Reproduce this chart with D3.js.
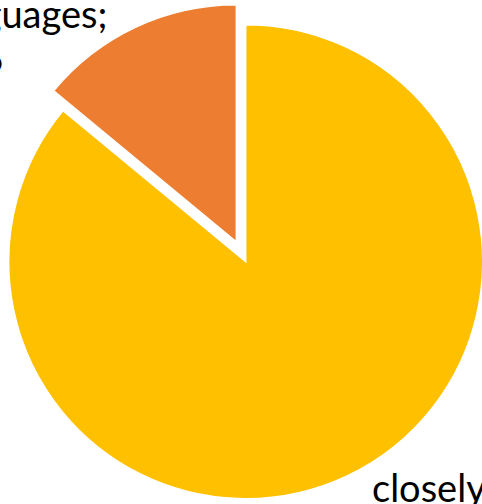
<!DOCTYPE html>
<html>
<head>
<meta charset="utf-8">
<script src="https://cdn.jsdelivr.net/npm/d3@7"></script>
<style>
  html, body { margin: 0; padding: 0; background: #fff; overflow: hidden; }
  svg { display: block; }
</style>
</head>
<body>
<svg id="chart" width="482" height="504"></svg>
<script>
// Share of speakers by language group
const categories = ["closely related languages", "Other languages"];
const shares = [86, 14];
const percentLabels = ["86%", "14%"];
const sliceColors = ["#FFC000", "#ED7D31"];

const width = 482, height = 504;
const cx = 245.7, cy = 261.7, radius = 237;
const explode = [0, 22];

const svg = d3.select("#chart");

const pie = d3.pie().sort(null).value(d => d.value).startAngle(0).endAngle(2 * Math.PI);
const arcs = pie(categories.map((c, i) => ({ name: c, value: shares[i], i })));
const arc = d3.arc().innerRadius(0).outerRadius(radius);

const g = svg.append("g").attr("transform", `translate(${cx},${cy})`);

g.selectAll("path")
  .data(arcs)
  .join("path")
  .attr("d", arc)
  .attr("fill", d => sliceColors[d.data.i])
  .attr("stroke", "#fff")
  .attr("stroke-width", 1.5)
  .attr("transform", d => {
    const mid = (d.startAngle + d.endAngle) / 2;
    const off = explode[d.data.i];
    return `translate(${Math.sin(mid) * off},${-Math.cos(mid) * off})`;
  });

// Data labels (category; value) placed outside the pie
const labelStyle = sel => sel
  .attr("font-family", "Lato, 'Open Sans', sans-serif")
  .attr("font-size", 38)
  .attr("fill", "#000");

const otherLabel = svg.append("text").call(labelStyle).attr("text-anchor", "middle");
otherLabel.append("tspan").attr("x", -34).attr("y", 28).text(categories[1] + ";");
otherLabel.append("tspan").attr("x", -34).attr("y", 71).text(percentLabels[1]);

const mainLabel = svg.append("text").call(labelStyle).attr("text-anchor", "start");
mainLabel.append("tspan").attr("x", 372).attr("y", 502).text("closely related");
mainLabel.append("tspan").attr("x", 372).attr("y", 544).text("languages; " + percentLabels[0]);
</script>
</body>
</html>
